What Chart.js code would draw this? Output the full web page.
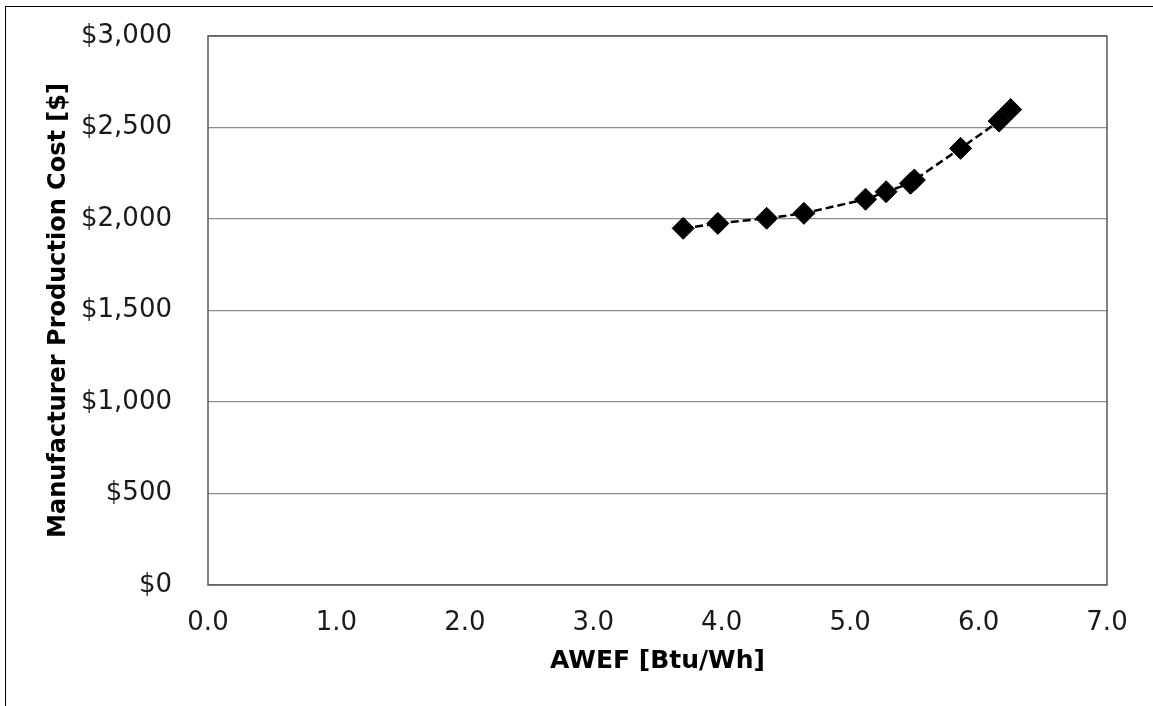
<!DOCTYPE html>
<html>
<head>
<meta charset="utf-8">
<script src="https://cdn.jsdelivr.net/npm/chart.js@4/dist/chart.umd.min.js"></script>
<style>
  html, body { margin: 0; padding: 0; background: #fff; overflow: hidden; }
  #wrap { position: relative; width: 1153px; height: 706px; overflow: hidden; }
  #frame { position: absolute; left: 5px; top: 6px; width: 1200px; height: 760px; border: 1px solid #000; box-sizing: border-box; pointer-events: none; }
  canvas { position: absolute; left: 0; top: 0; }
</style>
</head>
<body>
<div id="wrap">
  <canvas id="c" width="1153" height="706"></canvas>
  <div id="frame"></div>
</div>
<script>
// AWEF efficiency levels [Btu/Wh] and the matching manufacturer production cost [$]
const awef = [3.70, 3.97, 4.35, 4.64, 5.12, 5.28, 5.47, 5.50, 5.86, 6.16, 6.25];
const mpc = [1949, 1976, 2004, 2031, 2108, 2149, 2195, 2213, 2386, 2535, 2598];

const xTickValues = [0, 1, 2, 3, 4, 5, 6, 7];
const yTickValues = [0, 500, 1000, 1500, 2000, 2500, 3000];

const xTitle = 'AWEF [Btu/Wh]';
const yTitle = 'Manufacturer Production Cost [$]';

const points = awef.map((x, i) => ({ x: x, y: mpc[i] }));

const FONT = 'DejaVu Sans';

// Outline the plotting area on all four sides
const plotFrame = {
  id: 'plotFrame',
  afterDatasetsDraw(chart) {
    const a = chart.chartArea;
    const ctx = chart.ctx;
    ctx.save();
    ctx.strokeStyle = '#595959';
    ctx.lineWidth = 1.5;
    ctx.strokeRect(a.left, a.top, a.right - a.left, a.bottom - a.top);
    ctx.restore();
  }
};

new Chart(document.getElementById('c'), {
  type: 'scatter',
  data: {
    datasets: [{
      data: points,
      showLine: true,
      borderColor: '#000',
      borderWidth: 2.5,
      borderDash: [8, 4],
      backgroundColor: '#000',
      pointStyle: 'rectRot',
      pointRadius: 11,
      pointBorderWidth: 1,
      pointBorderColor: '#000',
      pointBackgroundColor: '#000',
      tension: 0
    }]
  },
  options: {
    responsive: false,
    animation: false,
    events: [],
    layout: { padding: { top: 36, right: 46, bottom: 0, left: 0 } },
    plugins: { legend: { display: false }, tooltip: { enabled: false } },
    scales: {
      x: {
        type: 'linear',
        min: 0,
        max: 7,
        afterBuildTicks(scale) { scale.ticks = xTickValues.map(v => ({ value: v })); },
        afterFit(scale) { scale.height = 121; scale.paddingLeft = 0; scale.paddingRight = 0; },
        grid: { display: false, drawTicks: false },
        border: { display: false },
        ticks: {
          padding: 23,
          color: '#1a1a1a',
          font: { family: FONT, size: 26 },
          maxRotation: 0,
          callback: v => Number(v).toFixed(1)
        },
        title: {
          display: true,
          text: xTitle,
          color: '#000',
          font: { family: FONT, size: 25, weight: 'bold', lineHeight: 1.2 },
          padding: { top: 0, bottom: 30 }
        }
      },
      y: {
        type: 'linear',
        min: 0,
        max: 3000,
        afterBuildTicks(scale) { scale.ticks = yTickValues.map(v => ({ value: v })); },
        afterFit(scale) { scale.width = 208; scale.paddingTop = 0; scale.paddingBottom = 0; },
        grid: { color: '#8c8c8c', lineWidth: 1.2, drawTicks: false },
        border: { display: false },
        ticks: {
          padding: 36,
          color: '#1a1a1a',
          font: { family: FONT, size: 26 },
          callback: v => '$' + Number(v).toLocaleString('en-US')
        },
        title: {
          display: true,
          text: yTitle,
          color: '#000',
          font: { family: FONT, size: 24, weight: 'bold', lineHeight: 1.2 },
          padding: { top: 44, bottom: 0 }
        }
      }
    }
  },
  plugins: [plotFrame]
});
</script>
</body>
</html>
